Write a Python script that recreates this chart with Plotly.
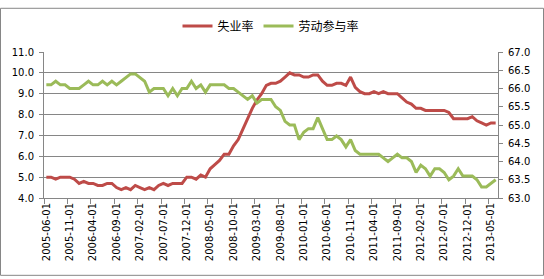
import plotly.graph_objects as go
import pandas as pd

# Monthly categories 2005-06 .. 2013-06
dates = [d.strftime("%Y-%m-%d") for d in pd.date_range("2005-06-01", "2013-06-01", freq="MS")]

unemployment = [
    5.0, 5.0, 4.9, 5.0, 5.0, 5.0, 4.9,                                  # 2005-06..12
    4.7, 4.8, 4.7, 4.7, 4.6, 4.6, 4.7, 4.7, 4.5, 4.4, 4.5, 4.4,         # 2006
    4.6, 4.5, 4.4, 4.5, 4.4, 4.6, 4.7, 4.6, 4.7, 4.7, 4.7, 5.0,         # 2007
    5.0, 4.9, 5.1, 5.0, 5.4, 5.6, 5.8, 6.1, 6.1, 6.5, 6.8, 7.3,         # 2008
    7.8, 8.3, 8.7, 9.0, 9.4, 9.5, 9.5, 9.6, 9.8, 10.0, 9.9, 9.9,        # 2009
    9.8, 9.8, 9.9, 9.9, 9.6, 9.4, 9.4, 9.5, 9.5, 9.4, 9.8, 9.3,         # 2010
    9.1, 9.0, 9.0, 9.1, 9.0, 9.1, 9.0, 9.0, 9.0, 8.8, 8.6, 8.5,         # 2011
    8.3, 8.3, 8.2, 8.2, 8.2, 8.2, 8.2, 8.1, 7.8, 7.8, 7.8, 7.8,         # 2012
    7.9, 7.7, 7.6, 7.5, 7.6, 7.6,                                       # 2013-01..06
]

participation = [
    66.1, 66.1, 66.2, 66.1, 66.1, 66.0, 66.0,                                   # 2005
    66.0, 66.1, 66.2, 66.1, 66.1, 66.2, 66.1, 66.2, 66.1, 66.2, 66.3, 66.4,     # 2006
    66.4, 66.3, 66.2, 65.9, 66.0, 66.0, 66.0, 65.8, 66.0, 65.8, 66.0, 66.0,     # 2007
    66.2, 66.0, 66.1, 65.9, 66.1, 66.1, 66.1, 66.1, 66.0, 66.0, 65.9, 65.8,     # 2008
    65.7, 65.8, 65.6, 65.7, 65.7, 65.7, 65.5, 65.4, 65.1, 65.0, 65.0, 64.6,     # 2009
    64.8, 64.9, 64.9, 65.2, 64.9, 64.6, 64.6, 64.7, 64.6, 64.4, 64.6, 64.3,     # 2010
    64.2, 64.2, 64.2, 64.2, 64.2, 64.1, 64.0, 64.1, 64.2, 64.1, 64.1, 64.0,     # 2011
    63.7, 63.9, 63.8, 63.6, 63.8, 63.8, 63.7, 63.5, 63.6, 63.8, 63.6, 63.6,     # 2012
    63.6, 63.5, 63.3, 63.3, 63.4, 63.5,                                         # 2013
]

names = ["失业率", "劳动参与率"]
colors = ["#BE4B48", "#9BBB59"]

GRID = "#868686"
L, R, T, B = 44, 46, 46, 81
W, H = 544, 279
pw, ph = W - L - R, H - T - B

fig = go.Figure()
fig.add_trace(go.Scatter(x=dates, y=unemployment, name=names[0], mode="lines",
                         line=dict(color=colors[0], width=3), yaxis="y"))
fig.add_trace(go.Scatter(x=dates, y=participation, name=names[1], mode="lines",
                         line=dict(color=colors[1], width=3), yaxis="y2"))

tickfont = dict(family="DejaVu Sans", size=10, color="#000000")

fig.update_layout(
    width=W, height=H,
    margin=dict(l=L, r=R, t=T, b=B, pad=0),
    paper_bgcolor="white", plot_bgcolor="white",
    showlegend=True,
    legend=dict(orientation="h", x=0.5, xanchor="center", y=1 + 27 / ph, yanchor="middle",
                font=dict(family="Noto Sans CJK SC", size=12, color="#000000"),
                itemwidth=30, tracegroupgap=0, bgcolor="rgba(0,0,0,0)"),
    xaxis=dict(type="category", range=[-0.5, len(dates) - 0.5],
               tickmode="linear", tick0=0, dtick=5, tickson="boundaries",
               ticks="outside", ticklen=5, tickcolor=GRID, tickwidth=1,
               showline=True, linecolor=GRID, linewidth=1, showgrid=False,
               tickangle=-90, tickfont=tickfont, zeroline=False),
    yaxis=dict(range=[4, 11], dtick=1, tick0=4, tickformat=".1f",
               ticks="outside", ticklen=4, tickcolor=GRID,
               showline=True, linecolor=GRID, linewidth=1,
               showgrid=True, gridcolor=GRID, gridwidth=1, zeroline=False,
               tickfont=tickfont, ticklabelstandoff=3),
    yaxis2=dict(range=[63, 67], dtick=0.5, tick0=63, tickformat=".1f",
                overlaying="y", side="right",
                ticks="outside", ticklen=4, tickcolor=GRID,
                showline=True, linecolor=GRID, linewidth=1,
                showgrid=False, zeroline=False, tickfont=tickfont, ticklabelstandoff=3),
    shapes=[dict(type="rect", xref="paper", yref="paper",
                 x0=(-L + 0.5) / pw, x1=1 + (R - 0.5) / pw,
                 y0=(-B + 0.5) / ph, y1=1 + (T - 0.5) / ph,
                 line=dict(color=GRID, width=1), layer="below")],
)

fig.write_html("out.html")
